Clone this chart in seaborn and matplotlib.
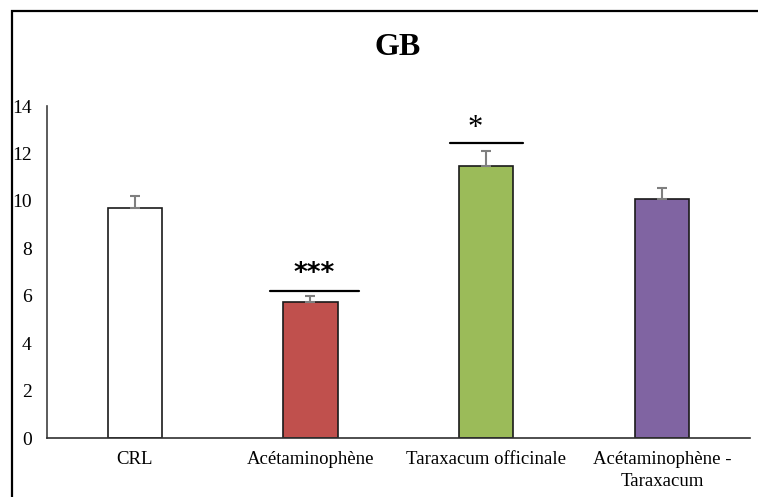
import numpy as np
import pandas as pd
import matplotlib
matplotlib.use("Agg")
import matplotlib.pyplot as plt
from matplotlib.patches import Rectangle
import seaborn as sns

# values
categories = ["CRL", "Acétaminophène", "Taraxacum officinale", "Acétaminophène -\nTaraxacum"]
means = [9.72, 5.74, 11.49, 10.07]
errors = [0.49, 0.26, 0.60, 0.49]
stars = ["", "***", "*", ""]
bar_colors = ["#FFFFFF", "#C0504D", "#9BBB59", "#8064A2"]
y_ticks = [0, 2, 4, 6, 8, 10, 12, 14]

sns.set_theme(style="white")
plt.rcParams["font.family"] = ["Liberation Serif", "DejaVu Serif"]
plt.rcParams["text.color"] = "black"
plt.rcParams["xtick.color"] = "black"
plt.rcParams["ytick.color"] = "black"

df = pd.DataFrame({"group": categories, "value": means})

fig = plt.figure(figsize=(7.58, 4.97), dpi=100)
ax = fig.add_axes([0.062, 0.1187, 0.927, 0.668])

sns.barplot(data=df, x="group", y="value", hue="group", palette=bar_colors, saturation=1,
            width=0.31, edgecolor="#1a1a1a", linewidth=1.2, legend=False, ax=ax)

xpos = np.arange(len(categories))
ax.errorbar(xpos, means, yerr=[np.zeros(len(means)), errors], fmt="none",
            ecolor="#7f7f7f", elinewidth=1.5, capsize=3.3, capthick=1.5, zorder=3)

# significance marks above treated groups
for i, s in enumerate(stars):
    if not s:
        continue
    top = means[i] + errors[i]
    if s == "***":
        ax.plot([i - 0.232, i + 0.278], [top + 0.2, top + 0.2], color="black", lw=1.6)
        ax.text(i + 0.02, top + 0.9, s, ha="center", va="center", fontsize=19,
                fontweight="bold", family="DejaVu Sans")
    else:
        ax.plot([i - 0.207, i + 0.207], [top + 0.35, top + 0.35], color="black", lw=1.6)
        ax.text(i - 0.06, top + 0.95, s, ha="center", va="center", fontsize=22)

ax.set_xlim(-0.5, 3.5)
ax.set_ylim(0, 14)
ax.set_yticks(y_ticks)
ax.set_yticklabels([str(t) for t in y_ticks], fontsize=14)
ax.tick_params(axis="x", labelsize=13.5, length=0, pad=9)
ax.tick_params(axis="y", length=0, pad=11)
for lbl in ax.get_xticklabels():
    lbl.set_linespacing(1.45)
ax.set_xlabel("")
ax.set_ylabel("")

for side in ["top", "right"]:
    ax.spines[side].set_visible(False)
ax.spines["left"].set_color("#404040")
ax.spines["bottom"].set_color("#303030")
ax.spines["left"].set_linewidth(1.2)
ax.spines["bottom"].set_linewidth(1.2)

fig.text(0.524, 0.905, "GB", ha="center", va="center", fontsize=23, fontweight="bold")

# outer frame (only the left and top edges fall inside the picture)
fig.patches.append(Rectangle((12 / 758, -0.2), 2.0, 1.2 - 11 / 497, transform=fig.transFigure,
                             fill=False, edgecolor="black", linewidth=1.6))

fig.savefig("out.png", dpi=100)
